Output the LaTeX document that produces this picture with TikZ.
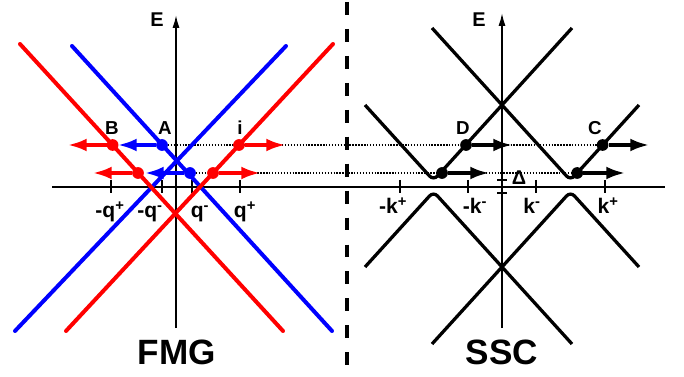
\documentclass[tikz,border=0pt]{standalone}
\usepackage{fontspec}
\setmainfont{Liberation Sans}
\usetikzlibrary{arrows.meta}
\begin{document}
\begin{tikzpicture}[x=0.03cm, y=-0.03cm,
    axis/.style={line width=1.4pt},
    band/.style={line width=3.4pt, line cap=round},
    gapline/.style={line width=2.8pt, rounded corners=5pt},
    guide/.style={line width=1pt, dash pattern=on 1.2pt off 1.3pt},
    dot/.style={circle, inner sep=0pt, minimum size=10pt},
    push/.style={line width=2.8pt, -{Latex[length=16pt,width=11pt]}},
    lab/.style={font=\fontsize{16}{18}\selectfont\bfseries},
    klab/.style={font=\fontsize{18}{20}\selectfont\bfseries, anchor=base},
    title/.style={font=\fontsize{30}{32}\selectfont\bfseries}]
    \useasboundingbox (0,0) rectangle (684,377);

    \coordinate (oL) at (176,328); \coordinate (eL) at (176,15);
    \coordinate (oR) at (502,328); \coordinate (eR) at (502,13);
    \coordinate (xa) at (52,187);  \coordinate (xb) at (665,187);

    \coordinate (A) at (162,145);   \coordinate (Ae) at (118,145);
    \coordinate (B) at (112.6,145); \coordinate (Be) at (68,145);
    \coordinate (i) at (239,145);   \coordinate (ie) at (285,145);
    \coordinate (bl) at (138,173);  \coordinate (ble) at (93,173);
    \coordinate (al) at (190,173);  \coordinate (ale) at (145,173);
    \coordinate (il) at (213,173);  \coordinate (ile) at (260,173);
    \coordinate (D) at (466,145);   \coordinate (De) at (512,145);
    \coordinate (dl) at (442,173);  \coordinate (dle) at (489,173);
    \coordinate (C) at (602.6,145); \coordinate (Ce) at (649,145);
    \coordinate (cl) at (577.2,173); \coordinate (cle) at (625,173);

    \draw[guide] (A) -- (C);
    \draw[guide] (al) -- (cl);
    \draw[line width=2.6pt, dash pattern=on 11pt off 12pt] (347,2) -- (347,370);

    \draw[axis] (xa) -- (xb);
    \draw[axis, -{Latex[length=11pt,width=6pt]}] (oL) -- (eL);
    \draw[axis, -{Latex[length=11pt,width=6pt]}] (oR) -- (eR);
    \foreach \x in {111,162,192,240,400,468,536,605}
        \draw[axis] (\x,180) -- (\x,193);
    \draw[axis] (497,180) -- (507,180);
    \draw[axis] (497,193) -- (507,193);

    \draw[band, blue] (72,46) -- (332,331);
    \draw[band, blue] (286,46) -- (15,331);
    \draw[band, red] (20,44) -- (283,331);
    \draw[band, red] (333,44) -- (66,331);

    \draw[gapline] (365,105) -- (433.5,180.4) -- (572,28);
    \draw[gapline] (432,28) -- (570.5,180.4) -- (639,105);
    \draw[gapline] (365,267) -- (433.5,191.6) -- (572,344);
    \draw[gapline] (432,344) -- (570.5,191.6) -- (639,267);

    \node[dot, fill=blue] (Adot) at (A) {};
    \node[dot, fill=red] (Bdot) at (B) {};
    \node[dot, fill=red] (idot) at (i) {};
    \node[dot, fill=red] (bldot) at (bl) {};
    \node[dot, fill=blue] (aldot) at (al) {};
    \node[dot, fill=red] (ildot) at (il) {};
    \node[dot, fill=black] (Ddot) at (D) {};
    \node[dot, fill=black] (dldot) at (dl) {};
    \node[dot, fill=black] (Cdot) at (C) {};
    \node[dot, fill=black] (cldot) at (cl) {};

    \draw[push, blue] (Adot) -- (Ae);
    \draw[push, red] (Bdot) -- (Be);
    \draw[push, red] (idot) -- (ie);
    \draw[push, red] (bldot) -- (ble);
    \draw[push, blue] (aldot) -- (ale);
    \draw[push, red] (ildot) -- (ile);
    \draw[push] (Ddot) -- (De);
    \draw[push] (dldot) -- (dle);
    \draw[push] (Cdot) -- (Ce);
    \draw[push] (cldot) -- (cle);

    \node[lab] (labA) at (165,128) {A};
    \node[lab] (labB) at (112,128) {B};
    \node[lab] (labi) at (240,128) {i};
    \node[lab] (labD) at (463,128) {D};
    \node[lab] (labC) at (595,128) {C};
    \node[lab, font=\fontsize{17}{19}\selectfont\bfseries] (labEL) at (157,20) {E};
    \node[lab, font=\fontsize{17}{19}\selectfont\bfseries] (labER) at (479,20) {E};
    \node[lab, font=\fontsize{17}{19}\selectfont\bfseries] (labgap) at (519,178) {Δ};

    \node[klab] (mqp) at (110,218) {-q\textsuperscript{+}};
    \node[klab] (mqm) at (150,218) {-q\textsuperscript{-}};
    \node[klab] (qm) at (200,218) {q\textsuperscript{-}};
    \node[klab] (qp) at (245,218) {q\textsuperscript{+}};
    \node[klab] (mkp) at (393,214) {-k\textsuperscript{+}};
    \node[klab] (mkm) at (475,214) {-k\textsuperscript{-}};
    \node[klab] (km) at (532,214) {k\textsuperscript{-}};
    \node[klab] (kp) at (608,214) {k\textsuperscript{+}};

    \node[title] (fmg) at (177,352) {FMG};
    \node[title] (ssc) at (502,352) {SSC};
\end{tikzpicture}
\end{document}
